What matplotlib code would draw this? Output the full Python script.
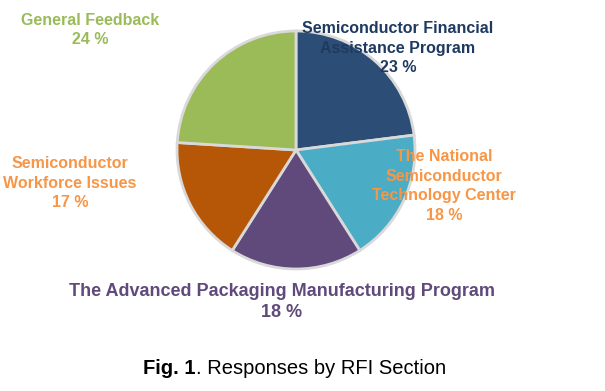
import matplotlib
matplotlib.use("Agg")
import matplotlib.pyplot as plt

labels = ["Semiconductor Financial\nAssistance Program",
          "The National\nSemiconductor\nTechnology Center",
          "The Advanced Packaging Manufacturing Program",
          "Semiconductor\nWorkforce Issues",
          "General Feedback"]
values = [23, 18, 18, 17, 24]
colors = ["#2C4D75", "#4BACC6", "#604A7B", "#B65708", "#9BBB59"]
label_colors = ["#1F3A60", "#F79646", "#604A7B", "#F79646", "#9BBB59"]
label_pos = [(398, 48), (444, 186), (282, 302), (70, 183), (90, 30)]
label_sizes = [11.5, 11.5, 13, 11.5, 11.5]
label_spacing = [1.38, 1.38, 1.25, 1.38, 1.38]

W, H = 605, 391
fig = plt.figure(figsize=(W / 100, H / 100), dpi=100)
ax = fig.add_axes([0, 0, 1, 1])

ax.pie(values, colors=colors, startangle=90, counterclock=False,
       center=(296, H - 150), radius=119, frame=False,
       wedgeprops=dict(edgecolor="#D9D9D9", linewidth=2))
ax.set_xlim(0, W)
ax.set_ylim(0, H)
ax.set_aspect("equal")
ax.axis("off")

for lab, v, c, (x, y), fs, ls in zip(labels, values, label_colors, label_pos,
                                     label_sizes, label_spacing):
    ax.text(x, H - y, f"{lab}\n{v} %", ha="center", va="center",
            color=c, fontsize=fs, fontweight="bold",
            family="Liberation Sans", linespacing=ls)

t1 = ax.text(143, H - 368, "Fig. 1", ha="left", va="center", fontsize=14.5,
             fontweight="bold", family="Liberation Sans", color="black")
fig.canvas.draw()
bb = t1.get_window_extent()
x_end = ax.transData.inverted().transform((bb.x1, bb.y0))[0]
ax.text(x_end, H - 368, ". Responses by RFI Section", ha="left", va="center",
        fontsize=14.5, family="Liberation Sans", color="black")

fig.savefig("out.png", dpi=100)
